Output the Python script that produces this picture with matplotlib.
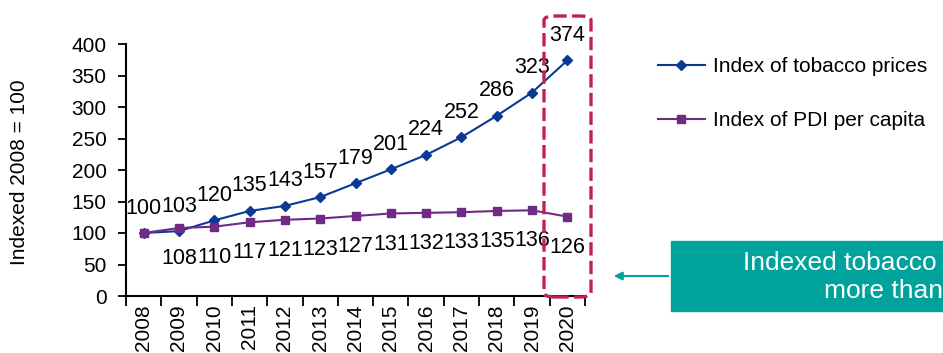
import matplotlib.pyplot as plt
import matplotlib.patches as patches
import numpy as np

plt.rcParams['font.family'] = ['Liberation Sans', 'DejaVu Sans']

# Dados
anos = ['2008', '2009', '2010', '2011', '2012', '2013', '2014',
        '2015', '2016', '2017', '2018', '2019', '2020']
tabaco = [100, 103, 120, 135, 143, 157, 179, 201, 224, 252, 286, 323, 374]
pdi = [100, 108, 110, 117, 121, 123, 127, 131, 132, 133, 135, 136, 126]

cor_tabaco = '#0B3A94'
cor_pdi = '#6F2A84'
cor_destaque = '#C4204F'
cor_caixa = '#00A39C'
tam = 15

fig = plt.figure(figsize=(9.43, 3.53), dpi=100)
ax = fig.add_axes([126 / 943, 57 / 353, 459 / 943, 252 / 353])

x = np.arange(len(anos))
l1, = ax.plot(x, tabaco, color=cor_tabaco, lw=1.5, marker='D', ms=5.5,
              label='Index of tobacco prices')
l2, = ax.plot(x, pdi, color=cor_pdi, lw=1.5, marker='s', ms=5.5,
              label='Index of PDI per capita')

# Rótulos de valor
for xi, v in zip(x, tabaco):
    ax.annotate(str(v), (xi, v), xytext=(0, 18), textcoords='offset points',
                ha='center', va='center', fontsize=15.5, clip_on=False)
for xi, v in zip(x[1:], pdi[1:]):
    ax.annotate(str(v), (xi, v), xytext=(0, -22), textcoords='offset points',
                ha='center', va='center', fontsize=15.5, clip_on=False)

ax.set_xlim(-0.5, len(anos) - 0.5)
ax.set_ylim(0, 400)
ax.set_yticks(range(0, 401, 50))
ax.set_xticks(np.arange(-0.5, len(anos), 1.0))
ax.set_xticklabels([])
ax.set_xticks(x, minor=True)
ax.set_xticklabels(anos, minor=True, rotation=90, fontsize=tam)
ax.tick_params(axis='x', which='major', length=7, width=1.3, direction='out')
ax.tick_params(axis='x', which='minor', length=0, pad=6)
ax.tick_params(axis='y', length=6, width=1.3, labelsize=tam, pad=8)
for s in ['top', 'right']:
    ax.spines[s].set_visible(False)
for s in ['left', 'bottom']:
    ax.spines[s].set_linewidth(1.5)

fig.text(20 / 943, 1 - 172 / 353, 'Indexed 2008 = 100', rotation=90,
         fontsize=15, ha='center', va='center')

# Destaque de 2020
caixa = patches.FancyBboxPatch((544 / 943, 56 / 353), 47 / 943, 281 / 353,
                               boxstyle='round,pad=0,rounding_size=0.012',
                               transform=fig.transFigure, fill=False,
                               ec=cor_destaque, lw=2.4, ls=(0, (4, 1.6)))
fig.patches.append(caixa)

# Legenda
fig.legend(handles=[l1, l2], loc='upper left', bbox_to_anchor=(658 / 943, 1 - 57 / 353),
           frameon=False, fontsize=15, handlelength=2.25, handletextpad=0.38,
           labelspacing=1.7, borderaxespad=0, borderpad=0)

# Caixa de comentário
fig.patches.append(patches.Rectangle((671 / 943, 42 / 353), 300 / 943, 70 / 353,
                                     transform=fig.transFigure, color=cor_caixa))
fig.text(743 / 943, 1 - 263 / 353, 'Indexed tobacco',
         color='white', fontsize=19, va='center', ha='left')
fig.text(824 / 943, 1 - 291 / 353, 'more than',
         color='white', fontsize=19, va='center', ha='left')
fig.add_artist(patches.FancyArrowPatch((671 / 943, 1 - 276 / 353), (611 / 943, 1 - 276 / 353),
                                       transform=fig.transFigure, arrowstyle='-|>',
                                       mutation_scale=12, color=cor_caixa, lw=1.5))

fig.savefig('out.png', dpi=100)
